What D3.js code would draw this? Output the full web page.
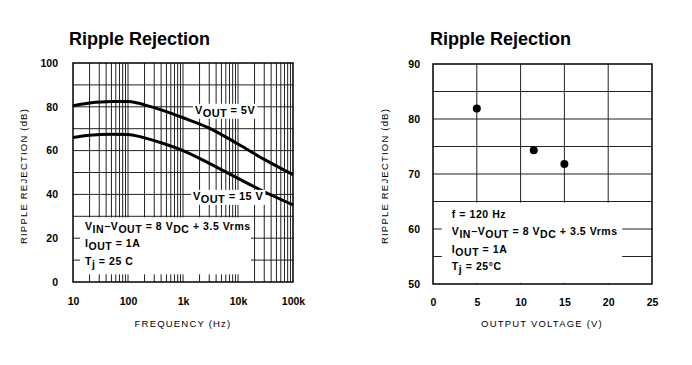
<!doctype html>
<meta charset="utf8">
<style>
  body { margin: 0; background: #fff; }
  svg { display: block; font-family: "Liberation Sans", Arial, Helvetica, sans-serif; }
  .tick text { font-weight: bold; font-size: 10.5px; fill: #000; }
  .grid line { stroke: #222; stroke-width: 1; }
  .note { font-size: 10.5px; font-weight: bold; fill: #000; letter-spacing: 0.55px; }
  .axis-title { font-size: 9.5px; letter-spacing: 1.2px; fill: #000; }
  .title { font-size: 18px; font-weight: bold; fill: #000; }
</style>
<body>
<div id="chart"></div>

<script src="https://d3js.org/d3.v7.min.js"></script>
<script>
(function() {

// left panel: ripple rejection vs frequency
const freqHz = [10, 20, 50, 100, 150, 200, 500, 1000, 3000, 10000, 30000, 100000];
const rr5V   = [80.5, 81.7, 82.4, 82.4, 81.7, 80.9, 77.8, 75, 70.3, 63, 56, 49];
const rr15V  = [66, 67, 67.5, 67.3, 66.6, 65.8, 62.8, 60, 54.2, 47.3, 41.2, 35.2];
const freqTicks = [10, 100, 1000, 10000, 100000];
const freqTickLabels = ["10", "100", "1k", "10k", "100k"];
const dbTicksLeft = [0, 20, 40, 60, 80, 100];

// right panel: ripple rejection vs output voltage at 120 Hz
const outVolts = [5, 11.5, 15];
const rrAt120 = [81.9, 74.3, 71.8];
const voltTicks = [0, 5, 10, 15, 20, 25];
const dbTicksRight = [50, 60, 70, 80, 90];

const W = 692, H = 365;

const svg = d3.select("#chart").append("svg")
  .attr("width", W)
  .attr("height", H);

// rich text with subscripts: parts are strings or [text] for subscript
function richText(sel, parts) {
  let shift = 0;
  parts.forEach(p => {
    const sub = Array.isArray(p);
    const s = sub ? 3 : 0;
    sel.append("tspan")
      .attr("dy", s - shift)
      .text(sub ? p[0] : p);
    shift = s;
  });
  return sel;
}

function whiteBehind(g, textSel, padX, padY) {
  const b = textSel.node().getBBox();
  g.insert("rect", () => textSel.node())
    .attr("x", b.x - padX)
    .attr("y", b.y - padY)
    .attr("width", b.width + 2 * padX)
    .attr("height", b.height + 2 * padY)
    .attr("fill", "#fff");
}

function yTitle(g, cx, cy) {
  g.append("text")
    .attr("class", "axis-title")
    .attr("transform", `translate(${cx},${cy}) rotate(-90)`)
    .attr("text-anchor", "middle")
    .text("RIPPLE REJECTION (dB)");
}

/* ---------------- left panel ---------------- */
(function() {
  const box = {x0: 73, x1: 293, y0: 63, y1: 282};
  const x = d3.scaleLog().domain([10, 1e5]).range([box.x0, box.x1]);
  const y = d3.scaleLinear().domain([0, 100]).range([box.y1, box.y0]);
  const g = svg.append("g");

  g.append("text").attr("class", "title")
    .attr("x", 69).attr("y", 45)
    .text("Ripple Rejection");

  const minors = d3.range(1, 5)
    .flatMap(e => d3.range(1, 10).map(m => m * 10 ** e))
    .filter(v => v > 10 && v < 1e5);

  const grid = g.append("g").attr("class", "grid");
  grid.selectAll(".v").data(minors).join("line")
    .attr("x1", d => x(d)).attr("x2", d => x(d))
    .attr("y1", box.y0).attr("y2", box.y1);
  grid.selectAll(".h").data(d3.range(10, 100, 10)).join("line")
    .attr("x1", box.x0).attr("x2", box.x1)
    .attr("y1", d => y(d)).attr("y2", d => y(d));

  // conditions box
  g.append("rect")
    .attr("x", x(13.4)).attr("y", y(29.5))
    .attr("width", x(17200) - x(13.4))
    .attr("height", y(3.5) - y(29.5))
    .attr("fill", "#fff");

  const notes = [
    {dB: 23.7, parts: ["V", ["IN"], "\u2212V", ["OUT"], " = 8 V", ["DC"], " + 3.5 Vrms"]},
    {dB: 16.0, parts: ["I", ["OUT"], " = 1A"]},
    {dB: 7.6, parts: ["T", ["j"], " = 25  C"]},
  ];
  notes.forEach(n => {
    richText(g.append("text").attr("class", "note")
      .attr("x", x(16.5)).attr("y", y(n.dB)), n.parts);
  });

  const line = d3.line().curve(d3.curveMonotoneX)
    .x((d, i) => x(freqHz[i]))
    .y(d => y(d));

  [rr5V, rr15V].forEach(s => {
    g.append("path")
      .attr("d", line(s))
      .attr("fill", "none")
      .attr("stroke", "#000")
      .attr("stroke-width", 3);
  });

  const lab5 = richText(g.append("text").attr("class", "note")
    .style("font-size", "11px").style("letter-spacing", "0.4px")
    .attr("x", x(1650)).attr("y", y(76.8)), ["V", ["OUT"], " = 5V"]);
  whiteBehind(g, lab5, 2, 0);
  const lab15 = richText(g.append("text").attr("class", "note")
    .style("font-size", "11px").style("letter-spacing", "0.4px")
    .attr("x", x(1520)).attr("y", y(37.5)), ["V", ["OUT"], " = 15 V"]);
  whiteBehind(g, lab15, 2, 0);

  g.append("rect")
    .attr("x", box.x0).attr("y", box.y0)
    .attr("width", box.x1 - box.x0).attr("height", box.y1 - box.y0)
    .attr("fill", "none").attr("stroke", "#000").attr("stroke-width", 1.5);

  g.append("g")
    .attr("transform", `translate(0,${box.y1 + 13})`)
    .call(d3.axisBottom(x).tickValues(freqTicks).tickSize(0)
      .tickFormat((d, i) => freqTickLabels[i]))
    .call(a => a.select(".domain").remove());

  g.append("g")
    .attr("transform", `translate(${box.x0 - 15},0)`)
    .call(d3.axisLeft(y).tickValues(dbTicksLeft).tickSize(0).tickPadding(0))
    .call(a => a.select(".domain").remove());

  g.append("text").attr("class", "axis-title")
    .attr("x", (box.x0 + box.x1) / 2).attr("y", 327)
    .attr("text-anchor", "middle")
    .text("FREQUENCY (Hz)");

  yTitle(g, 27, 176);
})();

/* ---------------- right panel ---------------- */
(function() {
  const box = {x0: 433, x1: 652, y0: 64, y1: 284};
  const x = d3.scaleLinear().domain([0, 25]).range([box.x0, box.x1]);
  const y = d3.scaleLinear().domain([50, 90]).range([box.y1, box.y0]);
  const g = svg.append("g");

  g.append("text").attr("class", "title")
    .attr("x", 430).attr("y", 45)
    .text("Ripple Rejection");

  const grid = g.append("g").attr("class", "grid");
  grid.selectAll(".v").data([5, 10, 15, 20]).join("line")
    .attr("x1", d => x(d)).attr("x2", d => x(d))
    .attr("y1", box.y0).attr("y2", box.y1);
  grid.selectAll(".h").data(d3.range(55, 90, 5)).join("line")
    .attr("x1", box.x0).attr("x2", box.x1)
    .attr("y1", d => y(d)).attr("y2", d => y(d));

  g.append("rect")
    .attr("x", x(1.0)).attr("y", y(64.8))
    .attr("width", x(21.6) - x(1.0))
    .attr("height", y(50.2) - y(64.8))
    .attr("fill", "#fff");
  g.append("rect")
    .attr("x", box.x0 + 1).attr("y", y(64.8))
    .attr("width", x(1.0) - box.x0)
    .attr("height", y(60.5) - y(64.8))
    .attr("fill", "#fff");

  const notes = [
    {dB: 62.0, parts: ["f = 120 Hz"]},
    {dB: 58.9, parts: ["V", ["IN"], "\u2212V", ["OUT"], " = 8 V", ["DC"], " + 3.5 Vrms"]},
    {dB: 55.7, parts: ["I", ["OUT"], " = 1A"]},
    {dB: 52.6, parts: ["T", ["j"], " = 25\u00b0C"]},
  ];
  notes.forEach(n => {
    richText(g.append("text").attr("class", "note")
      .attr("x", x(2.15)).attr("y", y(n.dB)), n.parts);
  });

  g.selectAll(".pt").data(outVolts).join("circle")
    .attr("cx", d => x(d))
    .attr("cy", (d, i) => y(rrAt120[i]))
    .attr("r", 4)
    .attr("fill", "#000");

  g.append("rect")
    .attr("x", box.x0).attr("y", box.y0)
    .attr("width", box.x1 - box.x0).attr("height", box.y1 - box.y0)
    .attr("fill", "none").attr("stroke", "#000").attr("stroke-width", 1.5);

  g.append("g")
    .attr("transform", `translate(0,${box.y1 + 12})`)
    .call(d3.axisBottom(x).tickValues(voltTicks).tickSize(0))
    .call(a => a.select(".domain").remove());

  g.append("g")
    .attr("transform", `translate(${box.x0 - 13},0)`)
    .call(d3.axisLeft(y).tickValues(dbTicksRight).tickSize(0).tickPadding(0))
    .call(a => a.select(".domain").remove());

  g.append("text").attr("class", "axis-title")
    .attr("x", 542).attr("y", 327)
    .attr("text-anchor", "middle")
    .text("OUTPUT VOLTAGE (V)");

  yTitle(g, 388, 176);
})();

})();
</script>
